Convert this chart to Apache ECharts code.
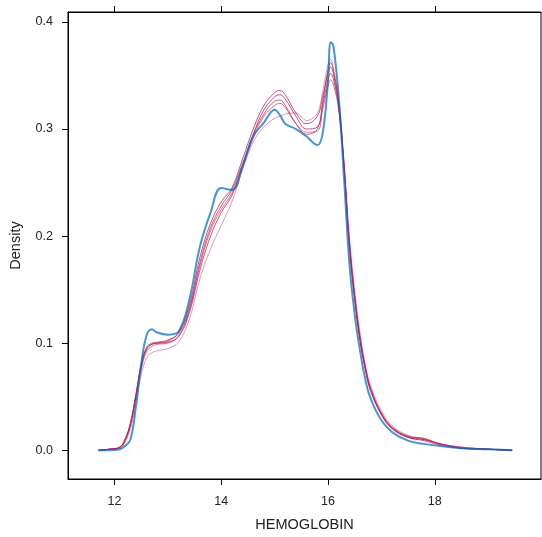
<!DOCTYPE html>
<html><head><meta charset="utf-8">
<script src="https://cdn.jsdelivr.net/npm/echarts@6/dist/echarts.min.js"></script>
<style>html,body{margin:0;padding:0;background:#fff}#c{width:542px;height:537px}</style>
</head><body><div id="c"></div>
<script>
const xGrid = [11.7,11.9,12.1,12.2,12.3,12.4,12.5,12.6,12.7,12.8,13.0,13.2,13.4,13.6,13.8,14.0,14.2,14.4,14.6,14.8,15.0,15.1,15.2,15.4,15.6,15.8,15.9,16.0,16.05,16.1,16.2,16.3,16.4,16.5,16.6,16.7,16.8,17.0,17.2,17.5,17.8,18.1,18.5,19.0,19.45];
const observed = [0,0,0.001,0.004,0.010,0.040,0.080,0.107,0.113,0.110,0.108,0.111,0.140,0.190,0.222,0.245,0.243,0.265,0.293,0.306,0.318,0.313,0.305,0.300,0.293,0.285,0.296,0.345,0.381,0.378,0.330,0.255,0.175,0.127,0.093,0.066,0.048,0.028,0.017,0.009,0.006,0.004,0.002,0.001,0];
const imp1 = [0,0.001,0.003,0.010,0.024,0.050,0.078,0.094,0.099,0.100,0.102,0.110,0.135,0.180,0.212,0.232,0.245,0.272,0.300,0.322,0.334,0.336,0.332,0.315,0.305,0.312,0.330,0.352,0.358,0.352,0.322,0.265,0.190,0.140,0.102,0.075,0.055,0.033,0.020,0.012,0.009,0.005,0.002,0.001,0];
const imp2 = [0,0.001,0.003,0.011,0.026,0.052,0.080,0.096,0.100,0.101,0.103,0.109,0.132,0.175,0.208,0.228,0.243,0.268,0.295,0.314,0.326,0.327,0.322,0.305,0.295,0.300,0.325,0.355,0.362,0.355,0.325,0.268,0.195,0.143,0.104,0.076,0.056,0.034,0.021,0.012,0.010,0.006,0.002,0.001,0];
const imp3 = [0,0.001,0.002,0.009,0.023,0.048,0.075,0.092,0.097,0.099,0.100,0.107,0.130,0.172,0.205,0.225,0.240,0.266,0.292,0.312,0.322,0.324,0.320,0.305,0.297,0.298,0.318,0.340,0.346,0.342,0.318,0.265,0.195,0.145,0.106,0.078,0.058,0.035,0.022,0.013,0.010,0.006,0.003,0.001,0];
const imp4 = [0,0.001,0.003,0.010,0.025,0.051,0.079,0.095,0.099,0.100,0.101,0.106,0.128,0.168,0.200,0.222,0.238,0.265,0.295,0.318,0.330,0.332,0.328,0.312,0.300,0.302,0.322,0.346,0.352,0.347,0.320,0.263,0.192,0.142,0.104,0.077,0.057,0.034,0.021,0.013,0.011,0.006,0.002,0.001,0];
const imp5 = [0,0.001,0.002,0.008,0.020,0.044,0.070,0.086,0.091,0.093,0.095,0.101,0.122,0.160,0.188,0.210,0.232,0.262,0.288,0.302,0.310,0.312,0.314,0.315,0.308,0.315,0.335,0.360,0.365,0.357,0.328,0.270,0.200,0.150,0.110,0.080,0.060,0.037,0.023,0.014,0.011,0.006,0.003,0.001,0];
const xTicks = [12,14,16,18];
const yTicks = [0,0.1,0.2,0.3,0.4];

const FONT = 'Liberation Sans, Arial, sans-serif';
const pair = ys => xGrid.map((x,i)=>[x, ys[i]]);
const imps = [imp1, imp2, imp3, imp4, imp5];
const impOpac = [0.75, 0.7, 0.6, 0.75, 0.45];
const series = imps.map((d,k)=>({
  type:'line', data: pair(d), smooth:0.4, symbol:'none',
  lineStyle:{color:'rgb(182,26,81)', width:1, opacity:impOpac[k]}, z:2
}));
series.push({type:'line', data: pair(observed), smooth:0.4, symbol:'none',
  lineStyle:{color:'rgb(0,108,194)', width:2, opacity:0.72}, z:3});

const chart = echarts.init(document.getElementById('c'), null, {renderer:'canvas'});
chart.setOption({
  animation:false,
  backgroundColor:'#fff',
  grid:{left:68, right:1, top:12, bottom:58, show:true, borderColor:'#000', borderWidth:1},
  xAxis:[{
    type:'value', min:11.13, max:19.99, position:'bottom',
    name:'HEMOGLOBIN', nameLocation:'middle', nameGap:38,
    nameTextStyle:{fontFamily:FONT, fontSize:14.5, color:'#222'},
    axisLine:{show:true, onZero:false, lineStyle:{color:'#000', width:1}},
    axisTick:{show:true, inside:false, length:6, customValues:xTicks, lineStyle:{color:'#000'}},
    axisLabel:{show:true, customValues:xTicks, margin:16, fontFamily:FONT, fontSize:12.5, color:'#222',
      formatter: v => String(v)},
    splitLine:{show:false}
  },{
    type:'value', min:11.13, max:19.99, position:'top',
    axisLine:{show:true, onZero:false, lineStyle:{color:'#000', width:1}},
    axisTick:{show:true, inside:false, length:6, customValues:xTicks, lineStyle:{color:'#000'}},
    axisLabel:{show:false}, splitLine:{show:false}
  }],
  yAxis:[{
    type:'value', min:-0.0268, max:0.4093,
    name:'Density', nameLocation:'middle', nameGap:45, nameRotate:90,
    nameTextStyle:{fontFamily:FONT, fontSize:14.5, color:'#222'},
    axisLine:{show:true, onZero:false, lineStyle:{color:'#000', width:1}},
    axisTick:{show:true, inside:false, length:6, customValues:yTicks, lineStyle:{color:'#000'}},
    axisLabel:{show:true, customValues:yTicks, margin:15, fontFamily:FONT, fontSize:12.5, color:'#222',
      formatter: v => v.toFixed(1)},
    splitLine:{show:false}
  }],
  series: series
});
</script></body></html>
